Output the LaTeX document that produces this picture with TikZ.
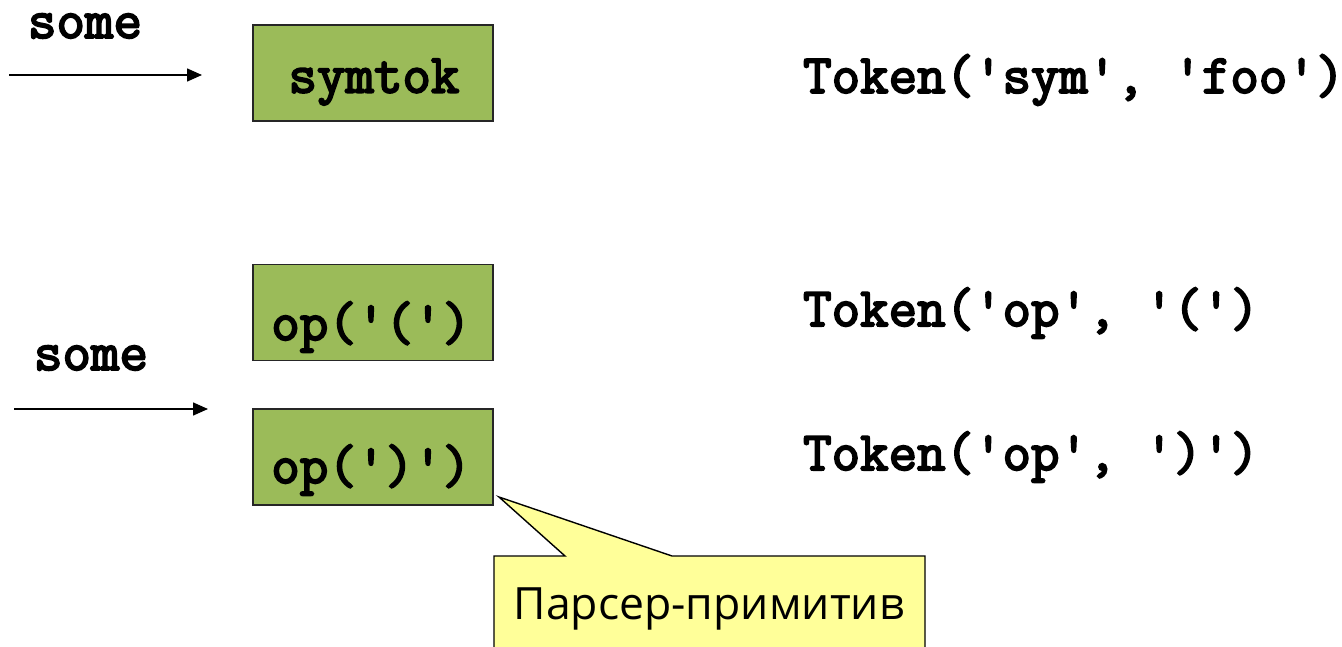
\documentclass[tikz,border=0pt]{standalone}
\usepackage{fontspec}
\setmainfont{Liberation Sans}
\newfontfamily\calloutfont{Open Sans}
\newfontfamily\codefont[FakeBold=3.5]{Latin Modern Mono}
\usetikzlibrary{arrows.meta}
\definecolor{boxgreen}{HTML}{9BBB59}
\definecolor{calloutyellow}{HTML}{FFFF99}
\tikzset{
  code/.style={font=\codefont\fontsize{55.3}{58}\selectfont, inner sep=0pt},
  parserbox/.style={draw=black!85, line width=1.4pt, fill=boxgreen, minimum width=240pt, minimum height=96pt, inner sep=0pt},
  flow/.style={line width=1.5pt, -{Triangle[length=15pt,width=13pt]}},
  callout/.style={draw=black, line width=1.4pt, fill=calloutyellow},
}
\begin{document}
\begin{tikzpicture}[x=1pt,y=-1pt]
\clip (0,0) rectangle (1342,647);
\fill[white] (0,0) rectangle (1342,647);
% boxes
\node[parserbox] (symtok) at (373,73) {};
\node[code] (symtoktext) at (374,82) {symtok};
\node[parserbox] (opl) at (373,312.5) {};
\node[code] (opltext) at (371,327) {op('(')};
\node[parserbox] (opr) at (373,457) {};
\node[code] (oprtext) at (371,470) {op(')')};
% input labels and arrows
\node[code, anchor=base] (some1) at (85,38) {some};
\coordinate (a1s) at (9,75);
\coordinate (a1e) at (202,75);
\draw[flow] (a1s) -- (a1e);
\node[code, anchor=base] (some2) at (91,370) {some};
\coordinate (a2s) at (14,409);
\coordinate (a2e) at (208,409);
\draw[flow] (a2s) -- (a2e);
% results
\node[code, anchor=west] (tok1) at (803,80) {Token('sym', 'foo')};
\node[code, anchor=west] (tok2) at (803,313) {Token('op', '(')};
\node[code, anchor=west] (tok3) at (803,457) {Token('op', ')')};
% callout
\coordinate (tip) at (499,497);
\draw[callout] (494,556) -- (565,556) -- (tip) -- (672,556) -- (925,556) -- (925,660) -- (494,660) -- cycle;
\node[font=\calloutfont\fontsize{44.5}{48}\selectfont, inner sep=0pt] (calltext) at (709,609) {Парсер-примитив};
\end{tikzpicture}
\end{document}
